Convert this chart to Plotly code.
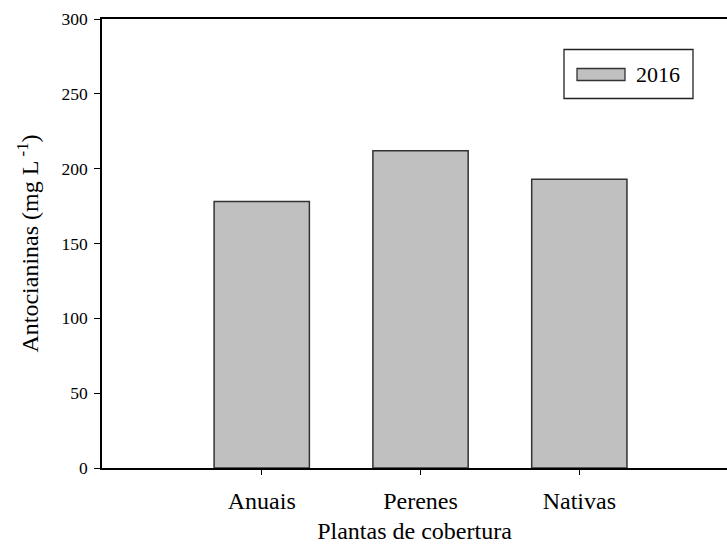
import plotly.graph_objects as go

# Anthocyanin content by cover-crop type
categorias = ["Anuais", "Perenes", "Nativas"]
antocianinas_2016 = [178, 212, 193]
serie_nome = "2016"
y_ticks = [0, 50, 100, 150, 200, 250, 300]

FONT = "Liberation Serif, Times New Roman, serif"
BAR_FILL = "#c0c0c0"
EDGE = "#333333"

fig = go.Figure()
fig.add_trace(go.Bar(
    x=list(range(len(categorias))),
    y=antocianinas_2016,
    name=serie_nome,
    width=0.6,
    marker=dict(color=BAR_FILL, line=dict(color=EDGE, width=1.5)),
    showlegend=False,
))

# Legend box drawn in paper coordinates
W, H = 727, 544
L, R, T, B = 102, 0, 19, 76
pw, ph = W - L - R, H - T - B

def px(x):
    return (x - L) / pw

def py(y):
    return 1 - (y - T) / ph

shapes = [
    dict(type="rect", xref="paper", yref="paper",
         x0=px(564), x1=px(693), y0=py(98.5), y1=py(49.5),
         line=dict(color="#222222", width=1.3), fillcolor="white"),
    dict(type="rect", xref="paper", yref="paper",
         x0=px(577), x1=px(625), y0=py(80.5), y1=py(68.5),
         line=dict(color=EDGE, width=1.3), fillcolor=BAR_FILL),
]
annotations = [
    dict(xref="paper", yref="paper", x=px(634), y=py(74.5),
         xanchor="left", yanchor="middle", showarrow=False,
         text=serie_nome, font=dict(family=FONT, size=22, color="black")),
]

fig.update_layout(
    width=W, height=H,
    margin=dict(l=L, r=R, t=T, b=B, pad=0),
    paper_bgcolor="white", plot_bgcolor="white",
    font=dict(family=FONT, color="black"),
    shapes=shapes, annotations=annotations,
    bargap=0.4,
)
fig.update_xaxes(
    tickmode="array", tickvals=list(range(len(categorias))), ticktext=categorias,
    range=[-1.006, 2.93],
    showline=True, linecolor="black", linewidth=1.5, mirror=True,
    ticks="outside", ticklen=5, tickwidth=1.3, tickcolor="black",
    tickfont=dict(family=FONT, size=24), ticklabelstandoff=5,
    showgrid=False, zeroline=False,
    title=dict(text="Plantas de cobertura", font=dict(family=FONT, size=24), standoff=12),
)
fig.update_yaxes(
    range=[0, 300], tickvals=y_ticks,
    showline=True, linecolor="black", linewidth=1.5,
    ticks="outside", ticklen=6, tickwidth=1.3, tickcolor="black",
    tickfont=dict(family=FONT, size=17.5), ticklabelstandoff=3,
    showgrid=False, zeroline=False,
    title=dict(text="Antocianinas (mg L<sup> -1</sup>)", font=dict(family=FONT, size=24), standoff=16),
)

fig.write_html("out.html")
